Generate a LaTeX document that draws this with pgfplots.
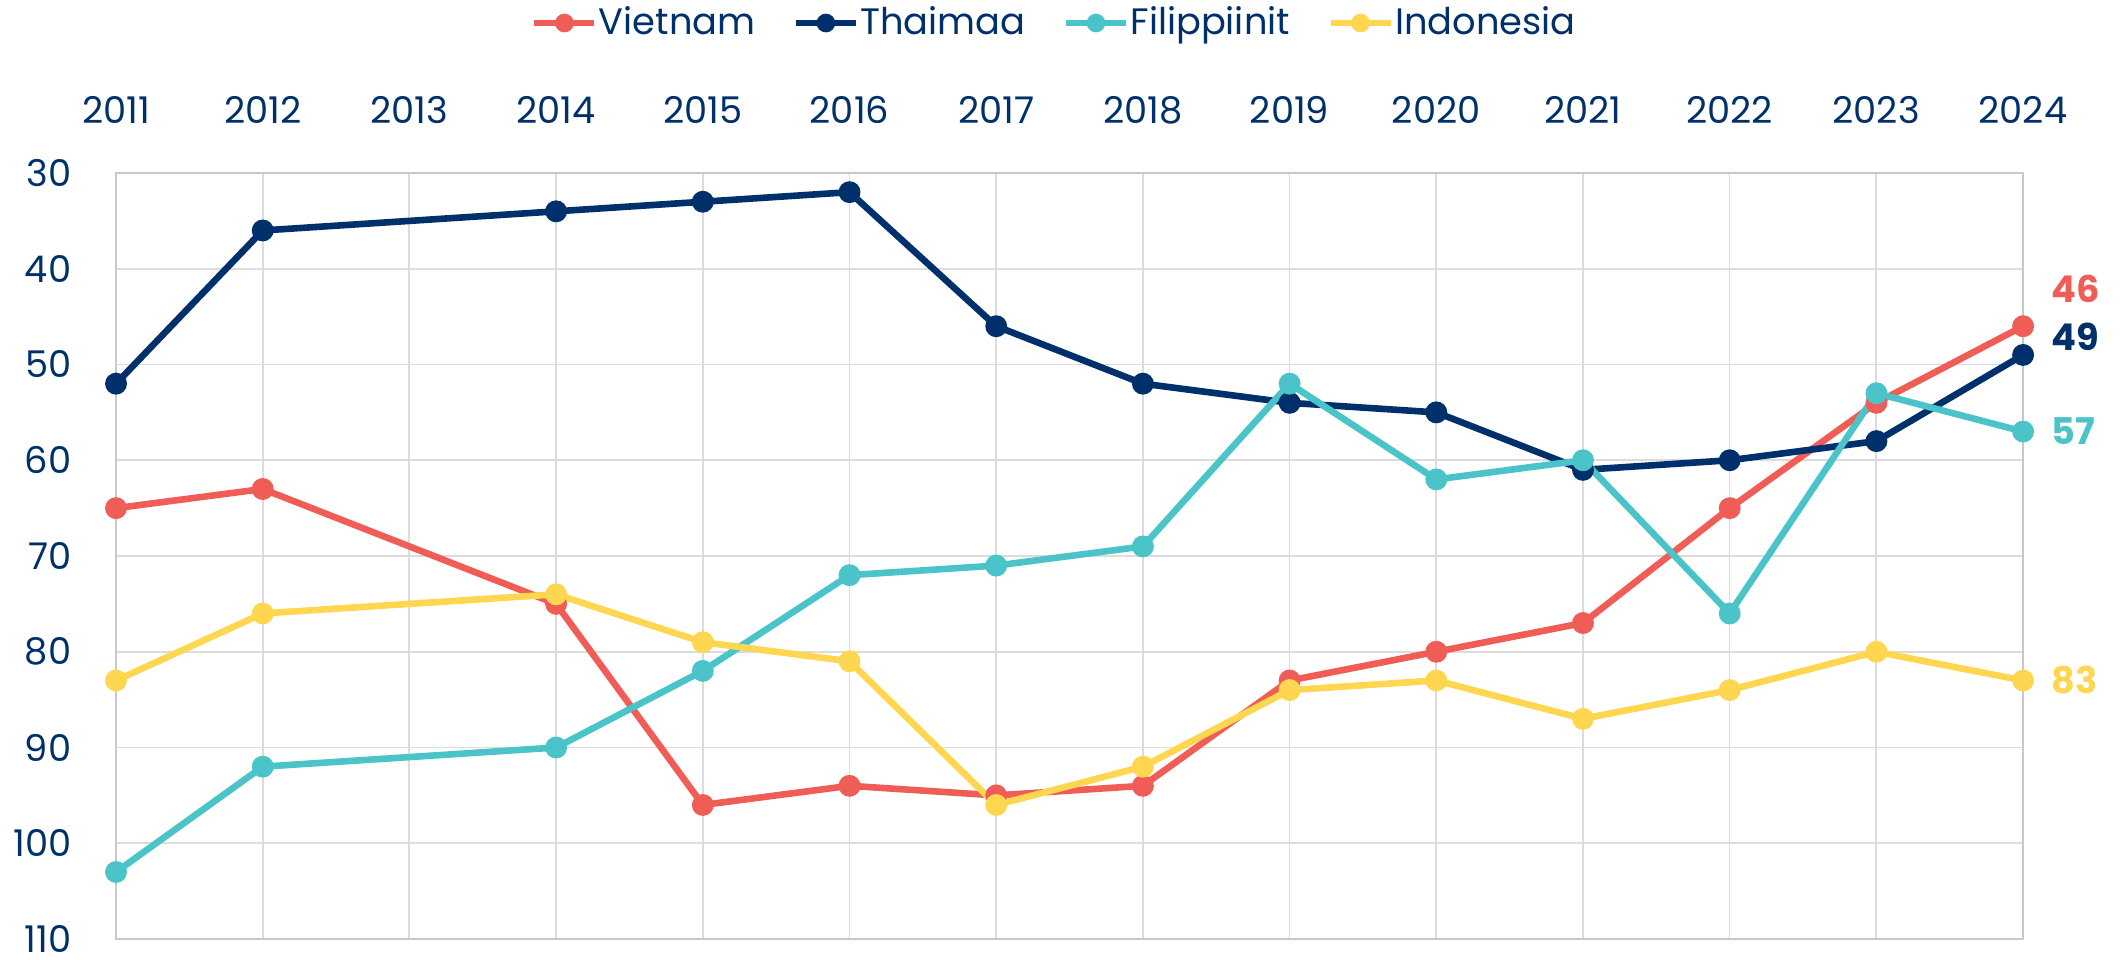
\documentclass[border=0pt]{standalone}
\usepackage{pgfplots}
\pgfplotsset{compat=1.18}
\usepackage{fontspec}
\setmainfont{Poppins}
\definecolor{cred}{HTML}{F05D57}
\definecolor{cnavy}{HTML}{00306B}
\definecolor{cteal}{HTML}{4AC4C8}
\definecolor{cyellow}{HTML}{FFD64F}
\definecolor{cgrid}{HTML}{DCDCDC}
\definecolor{caxis}{HTML}{C8C8C8}
\newcommand{\fs}{\fontsize{9.2}{11}\selectfont}
\begin{document}
\begin{tikzpicture}
\begin{axis}[
  scale only axis, width=476.75pt, height=191.5pt,
  xmin=2011, xmax=2024, ymin=30, ymax=110, y dir=reverse,
  xtick={2011,2012,...,2024}, ytick={30,40,...,110},
  xticklabel pos=upper,
  major tick length=0pt,
  /pgf/number format/assume math mode=true,
  /pgf/number format/1000 sep={},
  xticklabel style={font=\fs, text=cnavy, anchor=center, inner sep=0pt, yshift=15.75pt},
  yticklabel style={font=\fs, text=cnavy, anchor=east, inner sep=0pt, xshift=-11pt},
  grid=major, major grid style={cgrid, line width=0.45pt},
  axis line style={caxis, line width=0.5pt},
  clip=false,
  every axis plot/.append style={line width=1.65pt, mark=*, mark size=1.9pt},
  legend columns=4,
  legend style={at={(0.5,1)}, anchor=center, yshift=37.5pt, xshift=-3.9pt, draw=none, fill=none,
    inner sep=0pt, font=\fs, text=cnavy, nodes={inner sep=0.3pt},
    /tikz/every even column/.append style={column sep=9pt}},
  legend image code/.code={\draw[mark repeat=2,mark phase=2,#1,mark size=1.5pt] plot coordinates {(0pt,0pt) (7.5pt,0pt) (15pt,0pt)};},
]
\addplot[color=cred] coordinates {(2011,65)(2012,63)(2014,75)(2015,96)(2016,94)(2017,95)(2018,94)(2019,83)(2020,80)(2021,77)(2022,65)(2023,54)(2024,46)};
\addlegendentry{Vietnam}
\addplot[color=cnavy] coordinates {(2011,52)(2012,36)(2014,34)(2015,33)(2016,32)(2017,46)(2018,52)(2019,54)(2020,55)(2021,61)(2022,60)(2023,58)(2024,49)};
\addlegendentry{Thaimaa}
\addplot[color=cteal] coordinates {(2011,103)(2012,92)(2014,90)(2015,82)(2016,72)(2017,71)(2018,69)(2019,52)(2020,62)(2021,60)(2022,76)(2023,53)(2024,57)};
\addlegendentry{Filippiinit}
\addplot[color=cyellow] coordinates {(2011,83)(2012,76)(2014,74)(2015,79)(2016,81)(2017,96)(2018,92)(2019,84)(2020,83)(2021,87)(2022,84)(2023,80)(2024,83)};
\addlegendentry{Indonesia}
\node[anchor=west, inner sep=0pt, text=cred, font=\fs\bfseries, xshift=7pt, yshift=9.25pt] at (axis cs:2024,46) {46};
\node[anchor=west, inner sep=0pt, text=cnavy, font=\fs\bfseries, xshift=7pt, yshift=4.5pt] at (axis cs:2024,49) {49};
\node[anchor=west, inner sep=0pt, text=cteal, font=\fs\bfseries, xshift=7pt] at (axis cs:2024,57) {57};
\node[anchor=west, inner sep=0pt, text=cyellow, font=\fs\bfseries, xshift=7pt] at (axis cs:2024,83) {83};
\path (axis cs:2010.209,112.19) rectangle (axis cs:2024.688,11.93);
\end{axis}
\end{tikzpicture}
\end{document}
